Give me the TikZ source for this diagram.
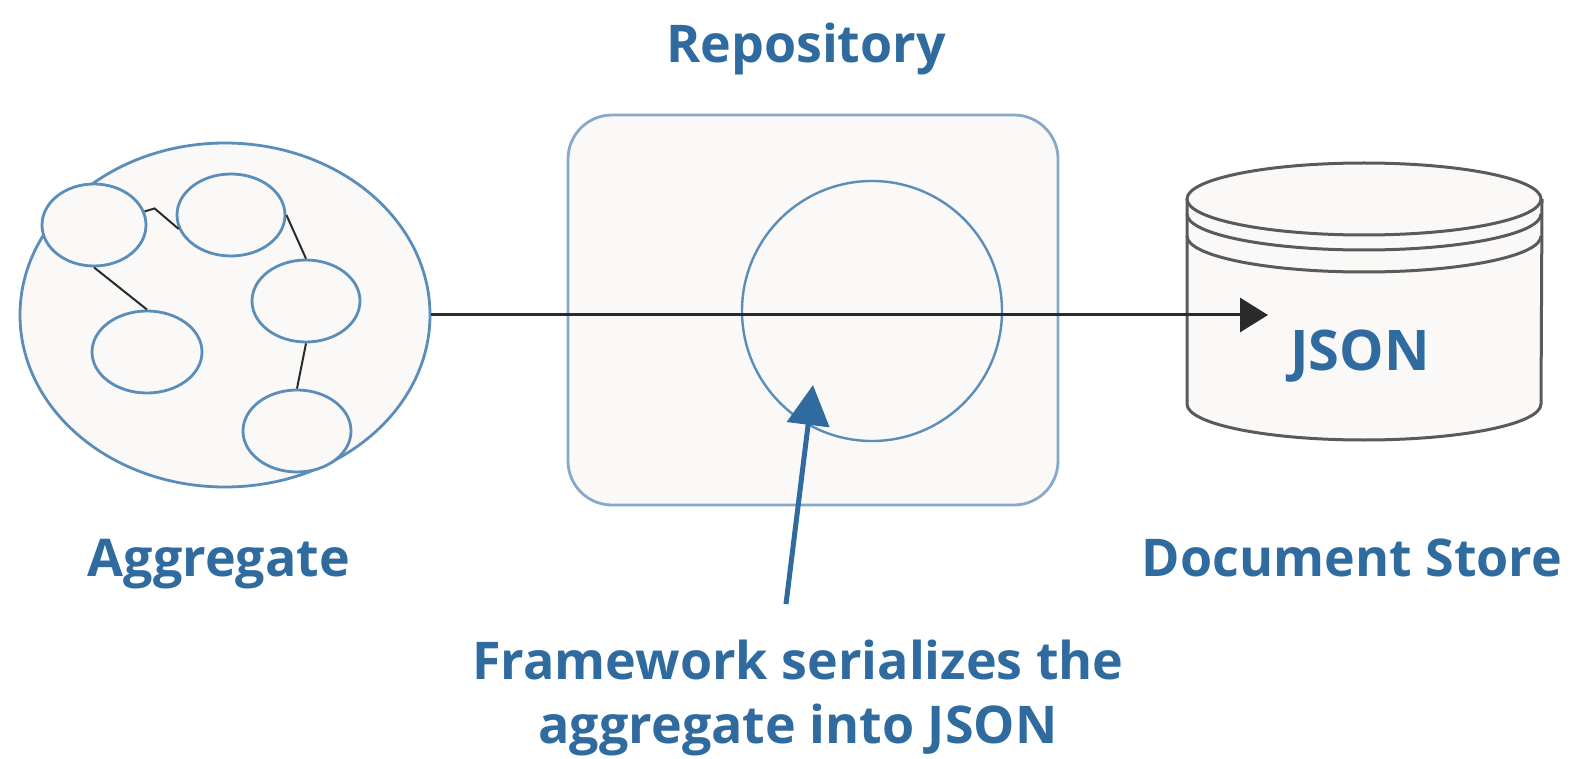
\documentclass[tikz,border=0pt]{standalone}
\usepackage{fontspec}
\setmainfont{Open Sans}
\usepackage{tikz}
\usetikzlibrary{positioning,shapes.geometric,arrows.meta}
\definecolor{aggblue}{HTML}{5A8DB9}
\definecolor{repoblue}{HTML}{86A9C9}
\definecolor{txtblue}{HTML}{2F6B9F}
\definecolor{paper}{HTML}{FAF9F7}
\definecolor{ink}{HTML}{2A2A2A}
\definecolor{drum}{HTML}{5A5A5A}
\tikzset{
	part/.style={ellipse,draw=aggblue,line width=1.4pt,fill=paper,inner sep=0pt,minimum width=54pt,minimum height=41pt},
	caption/.style={text=txtblue,font=\bfseries\fontsize{26}{32}\selectfont,anchor=base,align=center},
	link/.style={draw=ink,line width=1pt}
}

\begin{document}
\begin{tikzpicture}[x=0.5pt,y=-0.5pt]
	\useasboundingbox (0,0) rectangle (1574,759);
	% aggregate
	\node[ellipse,draw=aggblue,line width=1.4pt,fill=paper,inner sep=0pt,minimum width=205pt,minimum height=172pt] (agg) at (225,315) {};
	\node[part,minimum width=52pt] (p1) at (94,225) {};
	\node[part] (p2) at (231,215) {};
	\node[part] (p3) at (306,301) {};
	\node[part,minimum width=55pt] (p4) at (147,352) {};
	\node[part] (p5) at (297,431) {};
	\draw[link] (p1.15) -- ++(10,-3) -- (p2.195);
	\draw[link] (p1.south) -- (p4.north);
	\draw[link] (p2.east) -- (p3.north);
	\draw[link] (p3.south) -- (p5.north);
	\node[caption] (agglbl) at (219,576) {Aggregate};

	% repository
	\node[draw=repoblue,line width=1.4pt,fill=paper,rounded corners=22pt,minimum width=245pt,minimum height=195pt] (repo) at (813,310) {};
	\node[circle,draw=aggblue,line width=1.2pt,inner sep=0pt,minimum size=130pt] (loop) at (872,311) {};
	\node[caption] (repolbl) at (806,63) {Repository};

	% document store
	\fill[paper] (1187,199) -- (1187,404) arc[start angle=180,end angle=0,x radius=177,y radius=36]
		-- (1542,199) arc[start angle=0,end angle=-180,x radius=177,y radius=36] -- cycle;
	\draw[drum,line width=1.5pt] (1364,199) ellipse[x radius=177,y radius=36];
	\draw[drum,line width=1.5pt] (1187,214) arc[start angle=180,end angle=0,x radius=177,y radius=36];
	\draw[drum,line width=1.5pt] (1187,236) arc[start angle=180,end angle=0,x radius=177,y radius=36];
	\draw[drum,line width=1.5pt] (1187,199) -- (1187,404) arc[start angle=180,end angle=0,x radius=177,y radius=36] -- (1542,199);
	\node[caption,font=\bfseries\fontsize{28}{32}\selectfont] (json) at (1360,370) {JSON};
	\node[caption] (storelbl) at (1352,576) {Document Store};

	% serialization
	\coordinate (jsonin) at (1268,315);
	\draw[link,line width=1.5pt,-{Triangle[length=14pt,width=17pt]}] (agg.east) -- (jsonin);
	\node[caption] (serial) at (798,743) {Framework serializes the\\aggregate into JSON};
	\coordinate (foot) at (786,604);
	\coordinate (loopin) at (813,385);
	\draw[txtblue,line width=2.5pt,-{Triangle[length=20pt,width=21pt]}] (foot) -- (loopin);
\end{tikzpicture}
\end{document}
